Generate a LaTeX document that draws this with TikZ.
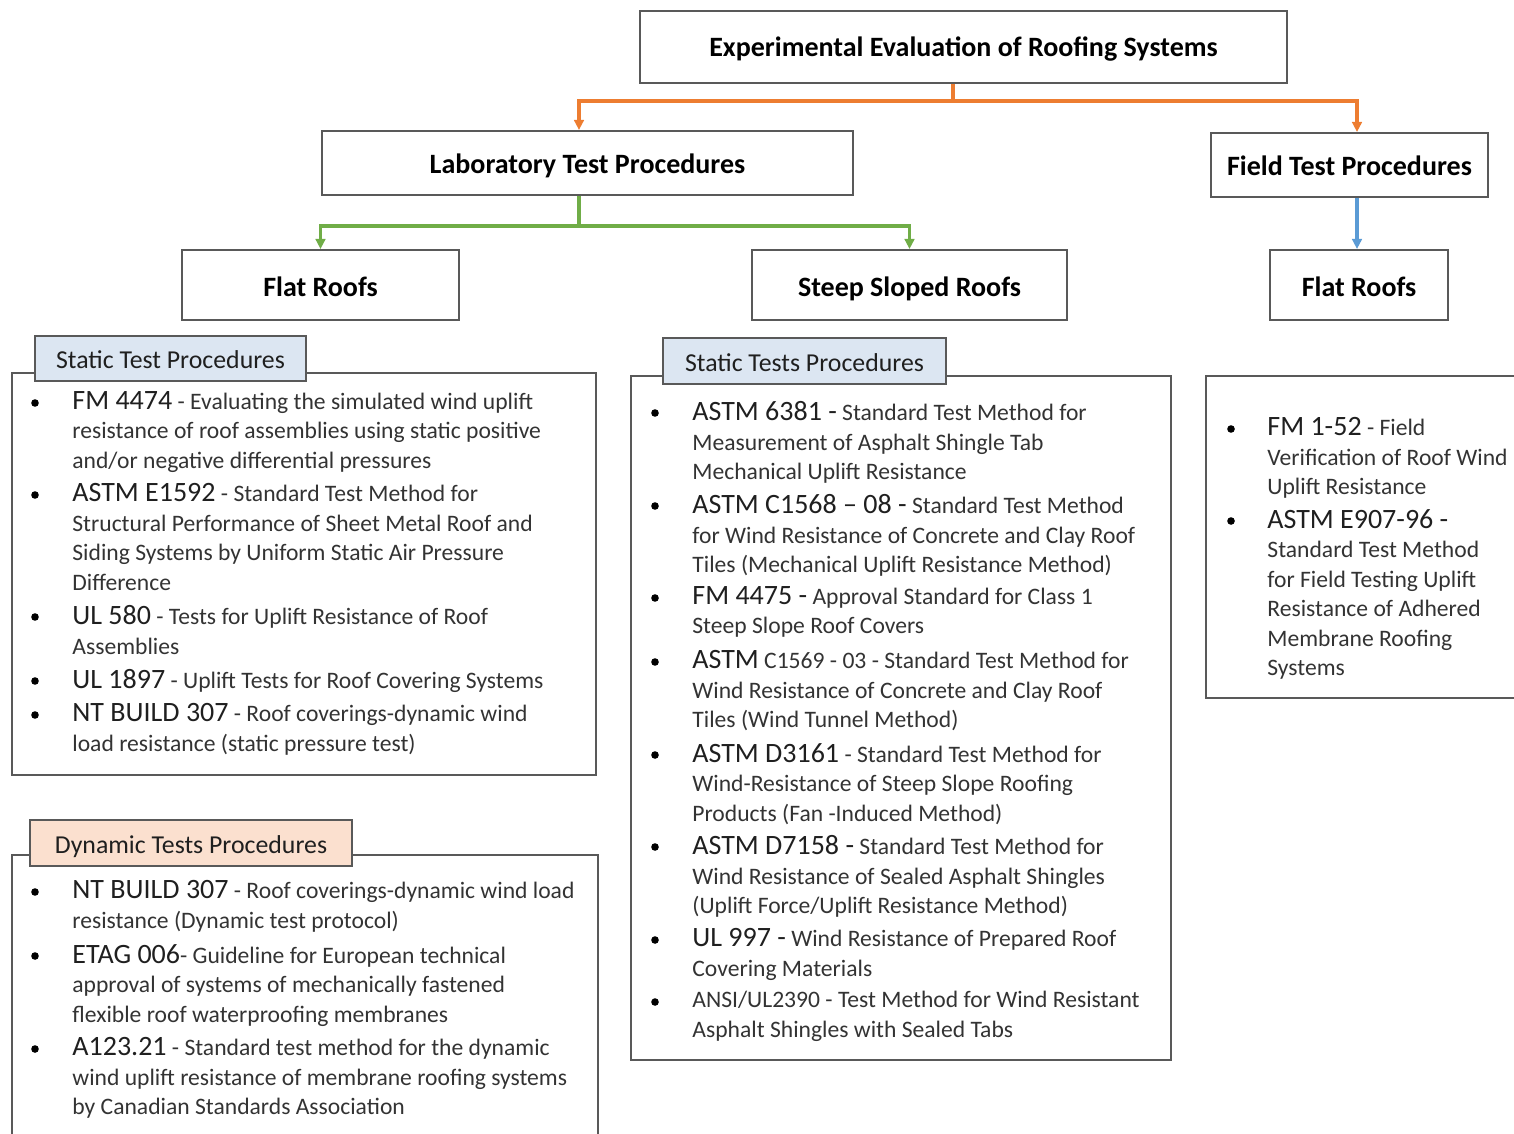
\documentclass[tikz,border=0pt]{standalone}
\usepackage{fontspec}
\setmainfont{Carlito}
\usetikzlibrary{arrows.meta,positioning}
\definecolor{orangeln}{HTML}{ED7D31}
\definecolor{greenln}{HTML}{70AD47}
\definecolor{blueln}{HTML}{5B9BD5}
\definecolor{tagblue}{HTML}{DCE6F2}
\definecolor{tagpeach}{HTML}{FBE0CF}
\definecolor{boxgray}{HTML}{595959}
\definecolor{namegray}{HTML}{1F1F1F}
\definecolor{descgray}{HTML}{333333}
\newcommand{\stdname}[1]{{\fontsize{14}{14.75}\selectfont\color{namegray}#1}}

\begin{document}
\begin{tikzpicture}[x=0.5pt,y=-0.5pt,{box/.style={rectangle,draw=boxgray,line width=1pt,text height=11pt,text depth=0pt,font=\bfseries\fontsize{14}{16}\selectfont,text=black}},{tagbox/.style={rectangle,draw=boxgray,line width=1pt,inner sep=0pt,text height=10pt,text depth=0pt,font=\fontsize{12.9}{15}\selectfont,text=namegray}},{panel/.style={draw=boxgray,line width=1pt}},{item/.style={anchor=north west,inner sep=0pt,align=left,font=\fontsize{11.8}{14.75}\selectfont,text=descgray}},{dot/.style={circle,fill=black,inner sep=0pt,minimum size=3.8pt}},{conn/.style={line width=1.6pt,-{Triangle[length=5pt,width=4.8pt]}}}]
		\useasboundingbox (0,0) rectangle (1514,1134);
		%%tree boxes
		\node at (963.5,47) [box,minimum width=323.5pt,minimum height=36pt,text height=10pt] (top) {Experimental Evaluation of Roofing Systems};
		\node at (587.5,163) [box,minimum width=265.5pt,minimum height=32pt] (lab) {Laboratory Test Procedures};
		\node at (1349.5,165) [box,minimum width=138.5pt,minimum height=32pt] (field) {Field Test Procedures};
		\node at (320.5,285) [box,minimum width=138.5pt,minimum height=35pt] (flatl) {Flat Roofs};
		\node at (909.5,285) [box,minimum width=157.5pt,minimum height=35pt] (steep) {Steep Sloped Roofs};
		\node at (1359,285) [box,minimum width=89pt,minimum height=35pt] (flatr) {Flat Roofs};

		%%connectors
		\draw [conn,orangeln] ([xshift=-5.25pt]top.south) -- ++(0,17) -| ([xshift=-4.25pt]lab.north);
		\draw [conn,orangeln] ([xshift=-5.25pt]top.south) -- ++(0,17) -| ([xshift=3.75pt]field.north);
		\draw [conn,greenln] ([xshift=-4.25pt]lab.south) -- ++(0,30) -| (flatl.north);
		\draw [conn,greenln] ([xshift=-4.25pt]lab.south) -- ++(0,30) -| (steep.north);
		\draw [conn,blueln] ([xshift=3.75pt]field.south) -- ([xshift=-1pt]flatr.north);

		%%panels
		\draw [panel] (12,373) rectangle (596,775);
		\draw [panel] (12,1134) -- (12,855) -- (598,855) -- (598,1134);
		\draw [panel] (631,376) rectangle (1171,1060);
		\draw [panel] (1514,376) -- (1206,376) -- (1206,698) -- (1514,698);
		\node at (170.5,358.5) [tagbox,fill=tagblue,minimum width=135.5pt,minimum height=22.5pt] (tagls) {Static Test Procedures};
		\node at (191,843) [tagbox,fill=tagpeach,minimum width=161pt,minimum height=23pt] (tagld) {Dynamic Tests Procedures};
		\node at (804.5,361) [tagbox,fill=tagblue,minimum width=141.5pt,minimum height=23pt] (tagms) {Static Tests Procedures};

		%%bullets
		\foreach \y in {403,495,617,681,715,892,956,1049} \node at (35,\y) [dot] (bl\y) {};
		\foreach \y in {413,506,598,662,755,847,940,1002} \node at (655,\y) [dot] (bm\y) {};
		\foreach \y in {429,521} \node at (1231,\y) [dot] (br\y) {};

		%%flat roofs, static
		\node at (72,391) [item] (ls1) {\stdname{FM 4474} - Evaluating the simulated wind uplift\\resistance of roof assemblies using static positive\\and/or negative differential pressures};
		\node at (72,483) [item] (ls2) {\stdname{ASTM E1592} - Standard Test Method for\\Structural Performance of Sheet Metal Roof and\\Siding Systems by Uniform Static Air Pressure\\Difference};
		\node at (72,605) [item] (ls3) {\stdname{UL 580} - Tests for Uplift Resistance of Roof\\Assemblies};
		\node at (72,669) [item] (ls4) {\stdname{UL 1897} - Uplift Tests for Roof Covering Systems};
		\node at (72,703) [item] (ls5) {\stdname{NT BUILD 307} - Roof coverings-dynamic wind\\load resistance (static pressure test)};

		%%flat roofs, dynamic
		\node at (72,880) [item] (ld1) {\stdname{NT BUILD 307} - Roof coverings-dynamic wind load\\resistance (Dynamic test protocol)};
		\node at (72,944) [item] (ld2) {\stdname{ETAG 006}- Guideline for European technical\\approval of systems of mechanically fastened\\flexible roof waterproofing membranes};
		\node at (72,1037) [item] (ld3) {\stdname{A123.21} - Standard test method for the dynamic\\wind uplift resistance of membrane roofing systems\\by Canadian Standards Association};

		%%steep sloped roofs
		\node at (692,401) [item] (ms1) {\stdname{ASTM 6381 -} Standard Test Method for\\Measurement of Asphalt Shingle Tab\\Mechanical Uplift Resistance};
		\node at (692,494) [item] (ms2) {\stdname{ASTM C1568 – 08 -} Standard Test Method\\for Wind Resistance of Concrete and Clay Roof\\Tiles (Mechanical Uplift Resistance Method)};
		\node at (692,586) [item] (ms3) {\stdname{FM 4475 -} Approval Standard for Class 1\\Steep Slope Roof Covers};
		\node at (692,650) [item] (ms4) {\stdname{ASTM} C1569 - 03 - Standard Test Method for\\Wind Resistance of Concrete and Clay Roof\\Tiles (Wind Tunnel Method)};
		\node at (692,743) [item] (ms5) {\stdname{ASTM D3161} - Standard Test Method for\\Wind-Resistance of Steep Slope Roofing\\Products (Fan -Induced Method)};
		\node at (692,835) [item] (ms6) {\stdname{ASTM D7158 -} Standard Test Method for\\Wind Resistance of Sealed Asphalt Shingles\\(Uplift Force/Uplift Resistance Method)};
		\node at (692,928) [item] (ms7) {\stdname{UL 997 -} Wind Resistance of Prepared Roof\\Covering Materials};
		\node at (692,991) [item] (ms8) {ANSI/UL2390 - Test Method for Wind Resistant\\Asphalt Shingles with Sealed Tabs};

		%%field, flat roofs
		\node at (1267,417) [item] (rf1) {\stdname{FM 1-52} - Field\\Verification of Roof Wind\\Uplift Resistance};
		\node at (1267,509) [item] (rf2) {\stdname{ASTM E907-96 -}\\Standard Test Method\\for Field Testing Uplift\\Resistance of Adhered\\Membrane Roofing\\Systems};
	\end{tikzpicture}
\end{document}
